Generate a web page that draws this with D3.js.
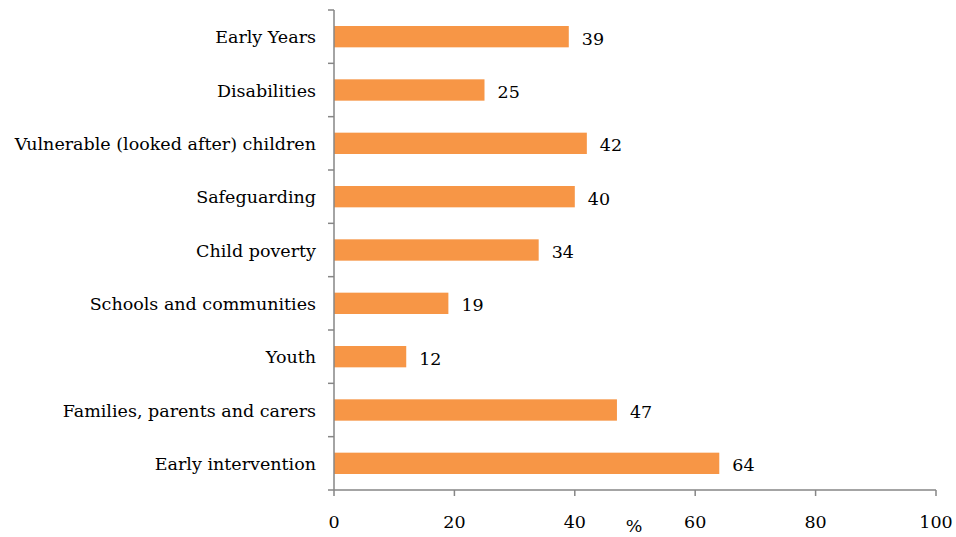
<!DOCTYPE html>
<html><head><meta charset="utf-8">
<script src="https://cdn.jsdelivr.net/npm/d3@7"></script>
<style>body{margin:0;background:#fff}svg{display:block}</style>
</head><body><svg id="c" width="956" height="537"></svg>
<script>
const categories = ["Early Years","Disabilities","Vulnerable (looked after) children","Safeguarding","Child poverty","Schools and communities","Youth","Families, parents and carers","Early intervention"];
const values = [39,25,42,40,34,19,12,47,64];
const xTicks = [0,20,40,60,80,100];
const xLabel = "%";

const svg = d3.select("#c");
const font = "DejaVu Serif";
const fs = 17.5;
const mLeft = 334, mRight = 936, mTop = 10, mBottom = 490;
const x = d3.scaleLinear().domain([0,100]).range([mLeft,mRight]);
const y = d3.scaleBand().domain(categories).range([mTop,mBottom]).paddingInner(0.6).paddingOuter(0.3);
const axisColor = "#868686";

// bars
svg.selectAll("rect.bar").data(categories).enter().append("rect")
  .attr("x", x(0)).attr("y", d=>y(d))
  .attr("width", (d,i)=>x(values[i])-x(0)).attr("height", y.bandwidth())
  .attr("fill", "#F79646");

// value labels
svg.selectAll("text.val").data(categories).enter().append("text")
  .attr("x", (d,i)=>x(values[i])+13).attr("y", d=>y(d)+y.bandwidth()/2+8)
  .attr("font-family", font).attr("font-size", fs).attr("fill","#000")
  .text((d,i)=>values[i]);

// y axis
const yb = d3.scaleLinear().domain([0,categories.length]).range([mTop,mBottom]);
const yg = svg.append("g");
yg.append("line").attr("x1",mLeft).attr("x2",mLeft).attr("y1",mTop).attr("y2",mBottom).attr("stroke",axisColor).attr("stroke-width",1.5);
yg.selectAll("line.t").data(d3.range(categories.length+1)).enter().append("line")
  .attr("x1",mLeft-6).attr("x2",mLeft).attr("y1",d=>yb(d)).attr("y2",d=>yb(d)).attr("stroke",axisColor).attr("stroke-width",1.5);
yg.selectAll("text").data(categories).enter().append("text")
  .attr("x", 316).attr("y", d=>y(d)+y.bandwidth()/2+6.5)
  .attr("text-anchor","end").attr("font-family",font).attr("font-size",fs).attr("fill","#000")
  .text(d=>d);

// x axis
const xg = svg.append("g");
xg.append("line").attr("x1",mLeft).attr("x2",mRight).attr("y1",mBottom).attr("y2",mBottom).attr("stroke",axisColor).attr("stroke-width",1.5);
xg.selectAll("line.t").data(xTicks).enter().append("line")
  .attr("x1",d=>x(d)).attr("x2",d=>x(d)).attr("y1",mBottom).attr("y2",mBottom+6).attr("stroke",axisColor).attr("stroke-width",1.5);
xg.selectAll("text").data(xTicks).enter().append("text")
  .attr("x",d=>x(d)).attr("y",528).attr("text-anchor","middle")
  .attr("font-family",font).attr("font-size",fs).attr("fill","#000").text(d=>d);
svg.append("text").attr("x",634).attr("y",532).attr("text-anchor","middle")
  .attr("font-family",font).attr("font-size",fs).attr("fill","#000").text(xLabel);
</script></body></html>
